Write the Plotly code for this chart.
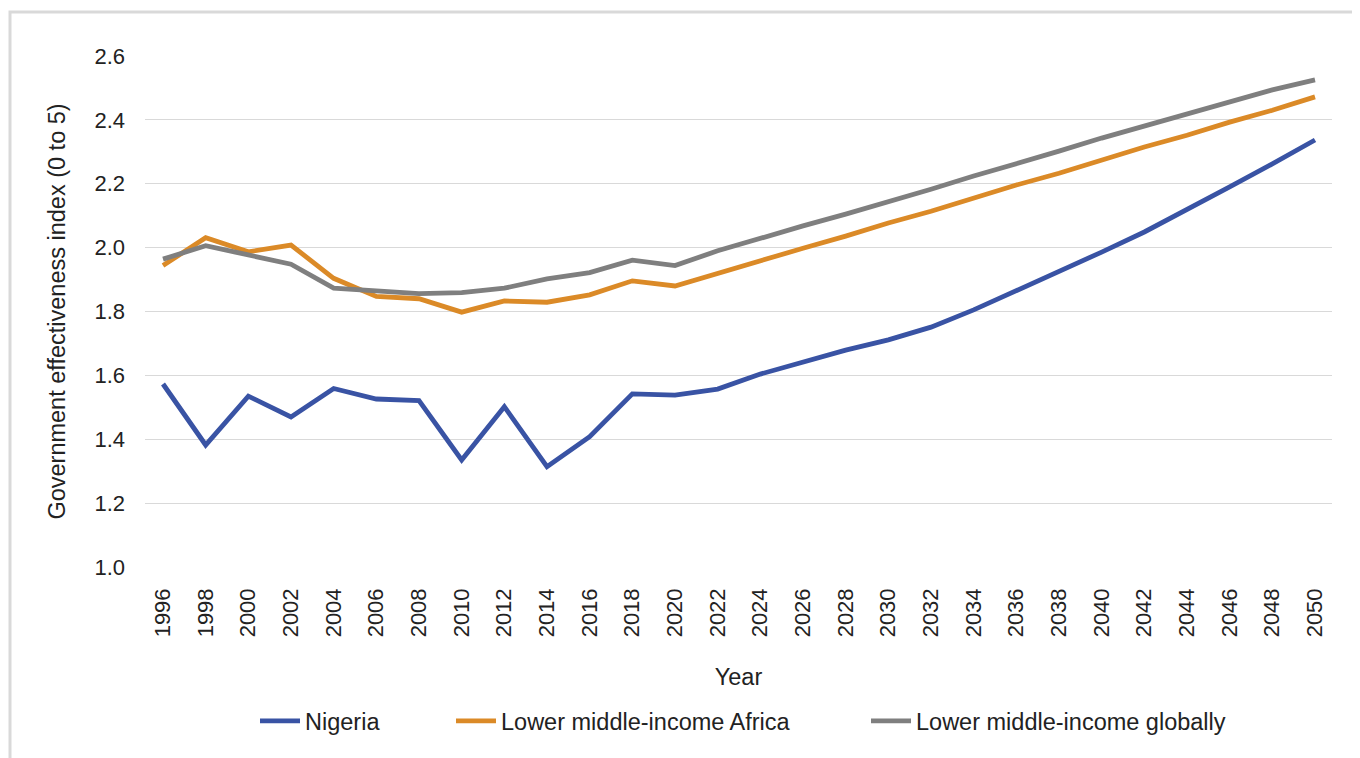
import plotly.graph_objects as go

years = list(range(1996, 2051, 2))

nigeria = [1.573, 1.382, 1.535, 1.470, 1.559, 1.526, 1.521, 1.335, 1.502, 1.314,
           1.408, 1.542, 1.538, 1.557, 1.604, 1.642, 1.679, 1.711, 1.751, 1.805,
           1.864, 1.927, 1.986, 2.049, 2.118, 2.190, 2.262, 2.337]

africa = [1.944, 2.031, 1.987, 2.008, 1.904, 1.847, 1.840, 1.798, 1.833, 1.829,
          1.852, 1.896, 1.880, 1.920, 1.960, 1.998, 2.036, 2.077, 2.114, 2.155,
          2.196, 2.233, 2.274, 2.315, 2.352, 2.393, 2.430, 2.472]

globally = [1.964, 2.006, 1.977, 1.948, 1.873, 1.866, 1.856, 1.859, 1.873, 1.902,
            1.922, 1.961, 1.944, 1.990, 2.030, 2.068, 2.105, 2.143, 2.183, 2.224,
            2.262, 2.302, 2.343, 2.381, 2.418, 2.456, 2.494, 2.525]

series_names = ["Nigeria", "Lower middle-income Africa", "Lower middle-income globally"]
colors = ["#3953a4", "#db8a27", "#7f7f7f"]
y_ticks = [1.0, 1.2, 1.4, 1.6, 1.8, 2.0, 2.2, 2.4, 2.6]
x_ticks = years

FONT = "Liberation Sans"
TXT = "#222222"
TS = 23.5  # size for titles and legend text

# page body has an 8px margin; shift layout to compensate
OFF = 8
FW, FH = 1360 - OFF, 758 - OFF

fig = go.Figure()
legend_ids = ["legend", "legend2", "legend3"]
for name, vals, col, lg in zip(series_names, [nigeria, africa, globally], colors, legend_ids):
    fig.add_trace(go.Scatter(
        x=years, y=vals, mode="lines", name=name,
        line=dict(color=col, width=4.8), legend=lg,
    ))

legend_common = dict(orientation="h", yanchor="middle", xanchor="left",
                     font=dict(family=FONT, size=TS, color=TXT),
                     bgcolor="rgba(0,0,0,0)", itemwidth=40)

L, R, T, B = 145, 1332, 56, 567  # screen coords of plot area
W = R - L
H = B - T

def px_x(p):
    return (p - L) / W

def px_y(p):
    return (B - p) / H

fig.update_layout(
    width=FW, height=FH,
    margin=dict(l=L - OFF, r=1360 - R, t=T - OFF, b=758 - B),
    paper_bgcolor="white", plot_bgcolor="white",
    font=dict(family=FONT, size=22, color=TXT),
    showlegend=True,
    legend=dict(x=px_x(255), y=px_y(721), **legend_common),
    legend2=dict(x=px_x(451), y=px_y(721), **legend_common),
    legend3=dict(x=px_x(866), y=px_y(721), **legend_common),
    xaxis=dict(
        range=[1995.156, 2050.797], tickmode="array", tickvals=x_ticks,
        ticktext=[str(v) for v in x_ticks], tickangle=-90, showgrid=False,
        zeroline=False, showline=False, ticks="", ticklabelstandoff=16,
        tickfont=dict(family=FONT, size=22, color=TXT),
        title=dict(text="Year", font=dict(family=FONT, size=TS, color=TXT), standoff=32),
    ),
    yaxis=dict(
        range=[1.0, 2.6], tickmode="array", tickvals=y_ticks,
        ticktext=[f"{v:.1f}" for v in y_ticks], showgrid=True,
        gridcolor="#d9d9d9", gridwidth=1.3, zeroline=False, showline=False,
        ticks="", ticklabelstandoff=19,
        tickfont=dict(family=FONT, size=22, color=TXT),
        title=dict(text="Government effectiveness index (0 to 5)",
                   font=dict(family=FONT, size=TS, color=TXT), standoff=22),
    ),
    shapes=[dict(type="rect", xref="paper", yref="paper",
                 x0=px_x(10), x1=px_x(1356), y0=px_y(790), y1=px_y(12),
                 line=dict(color="#d9d9d9", width=3), layer="below")],
)

fig.write_html("out.html")
